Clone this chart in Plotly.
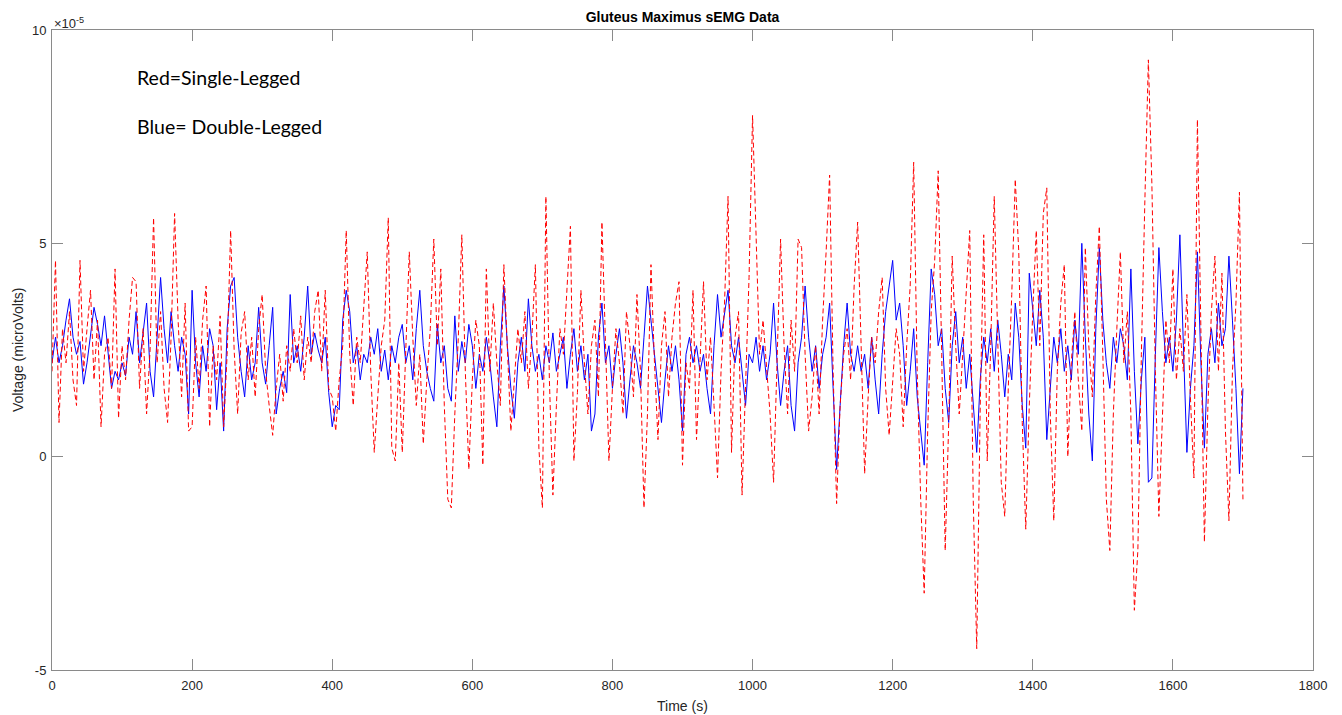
import plotly.graph_objects as go

# Time axis (s), sample every 5 s
time_s = list(range(0, 1701, 5))

# Values in units of 1e-5 (axis exponent shown as x10^-5)
single_legged = [
    2.0, 4.6, 0.8, 3.0, 2.2, 3.4, 1.8, 1.2, 4.6, 2.0,
    3.0, 3.9, 1.8, 3.2, 0.7, 2.4, 2.8, 1.6, 4.4, 0.9,
    2.6, 1.8, 3.2, 4.2, 4.1, 1.6, 3.0, 1.0, 2.5, 5.6,
    2.2, 3.4, 1.6, 0.8, 2.8, 5.7, 3.2, 1.4, 3.6, 0.6,
    0.7, 2.8, 1.6, 3.2, 4.0, 0.7, 2.6, 1.8, 3.3, 0.7,
    2.4, 5.3, 2.5, 1.0, 2.9, 3.4, 1.8, 2.8, 1.4, 3.0,
    3.8, 2.0, 1.2, 0.5, 1.6, 2.4, 1.3, 2.6, 2.0, 3.0,
    2.2, 3.3, 1.8, 2.8, 2.2, 3.4, 3.9, 2.0, 3.9, 1.6,
    1.4, 0.6, 1.8, 2.6, 5.3, 2.4, 1.2, 2.8, 2.2, 3.5,
    4.8, 2.0, 0.1, 1.4, 2.6, 3.2, 5.6, 0.2, -0.1, 2.2,
    0.1, 2.5, 4.8, 2.8, 1.2, 2.4, 0.3, 1.8, 3.0, 5.1,
    2.6, 4.4, 1.2, -1.0, -1.2, 1.0, 2.8, 5.2, 2.0, -0.3,
    1.8, 3.2, 2.6, -0.2, 4.4, 2.0, 3.6, 2.2, 1.2, 4.5,
    2.5, 0.6, 1.8, 3.0, 2.2, 3.4, 1.6, 2.8, 4.5, 0.2,
    -1.2, 6.1, 1.8, -0.9, 1.2, 3.0, 2.4, 4.0, 5.4, -0.1,
    1.5, 3.9, 2.2, 1.0, 2.6, 3.2, 1.4, 5.5, 2.4, -0.1,
    1.6, 3.0, 2.2, 1.0, 3.4, 2.6, 1.4, 3.8, 2.0, -1.2,
    1.0, 4.5, 2.2, 0.4, 2.6, 3.4, 1.4, 2.8, 3.6, 4.1,
    -0.2, 2.2, 1.6, 3.9, 0.4, 2.4, 4.1, 1.8, 2.8, 1.2,
    -0.5, 2.0, 3.6, 6.1, 0.1, 2.8, 3.4, -0.9, 1.6, 4.2,
    8.0, 5.2, 2.4, 3.2, 2.0, 1.0, -0.6, 2.2, 5.1, 2.6,
    1.0, 3.2, 2.0, 5.1, 4.9, 2.4, 0.6, 1.4, 2.6, 1.0,
    3.2, 4.8, 6.6, 2.0, -1.1, 1.2, 2.4, 3.0, 1.8, 4.0,
    5.5, 2.6, -0.4, 1.4, 2.8, 2.2, 3.4, 4.2, 1.6, 0.5,
    1.8, 3.0, 2.4, 0.7, 2.6, 4.0, 6.9, 2.0, -1.0, -3.2,
    0.6, 3.4, 4.6, 6.7, 2.4, -2.2, 0.8, 4.7, 2.6, 1.0,
    2.4, 3.8, 5.3, -1.0, -4.5, 1.2, 5.2, -0.1, 2.6, 6.1,
    3.0, -0.6, -1.4, 1.6, 3.8, 6.5, 4.8, 0.8, -1.7, 1.2,
    3.4, 5.3, 2.6, 5.7, 6.3, 1.0, -1.5, 2.0, 3.6, 4.5,
    0.0, 2.2, 3.4, 1.8, 0.6, 4.9, 2.6, 1.4, 3.8, 5.4,
    2.4, -1.0, -2.2, 1.0, 3.0, 4.8, 2.2, 3.4, 1.0, -3.6,
    -2.2, 2.4, 6.0, 9.3, 6.4, 2.0, -1.4, 0.8, 3.2, 2.2,
    4.4, 1.8, 3.0, 2.0, 3.8, 1.4, -0.5, 7.9, 2.4, -2.0,
    1.2, 3.4, 4.7, 2.0, 4.3, 0.6, -1.5, 2.0, 3.6, 6.2,
    -1.0,
]

double_legged = [
    2.2, 2.8, 2.2, 2.6, 3.2, 3.7, 2.8, 2.4, 2.7, 1.7,
    2.2, 2.8, 3.5, 3.1, 2.6, 3.3, 2.4, 1.6, 2.0, 1.8,
    2.2, 1.9, 2.8, 2.4, 3.4, 2.2, 2.9, 3.6, 2.0, 1.4,
    2.8, 4.2, 3.0, 2.2, 3.4, 2.6, 2.0, 2.8, 2.4, 1.0,
    3.9, 2.2, 1.4, 2.6, 2.0, 3.0, 2.6, 1.1, 2.2, 0.6,
    3.0, 4.0, 4.2, 2.8, 2.0, 1.4, 2.6, 1.8, 2.2, 3.5,
    2.2, 1.7, 2.6, 3.5, 1.0, 1.6, 2.0, 1.5, 3.8, 2.2,
    2.6, 2.0, 2.8, 4.0, 2.4, 2.9, 2.5, 2.2, 2.8, 1.5,
    0.7, 1.2, 1.1, 3.2, 3.9, 3.4, 2.2, 2.6, 1.8, 2.4,
    2.2, 2.8, 2.4, 3.0, 2.0, 2.5, 1.8, 2.6, 2.2, 2.8,
    3.1, 2.2, 2.6, 1.8, 3.0, 3.9, 2.6, 2.0, 1.6, 1.3,
    3.1, 2.2, 2.6, 1.6, 1.3, 3.3, 2.0, 2.7, 2.2, 3.1,
    2.6, 1.6, 2.4, 2.0, 2.8, 2.2, 1.4, 0.7, 2.6, 4.0,
    2.6, 1.6, 0.9, 2.2, 2.8, 2.0, 3.7, 2.6, 2.0, 2.4,
    1.8, 2.6, 2.2, 2.9, 2.0, 2.4, 2.8, 1.6, 2.4, 3.0,
    2.0, 2.6, 1.8, 2.4, 0.6, 1.0, 2.8, 3.6, 2.2, 2.6,
    1.6, 2.4, 3.0, 2.2, 0.9, 1.8, 2.6, 2.2, 1.6, 2.8,
    4.0, 3.2, 2.4, 1.6, 0.8, 1.8, 2.6, 2.0, 2.6, 1.8,
    0.6, 2.4, 2.8, 2.2, 2.6, 2.0, 2.4, 1.6, 1.0, 2.6,
    3.8, 2.8, 3.4, 3.9, 2.6, 2.2, 2.8, 2.0, 1.2, 2.4,
    2.2, 2.8, 2.0, 2.6, 1.8, 2.4, 3.6, 2.2, 1.2, 2.0,
    2.6, 1.2, 0.6, 2.2, 2.8, 4.0, 2.8, 2.0, 2.6, 1.6,
    2.4, 2.8, 3.6, 1.6, -0.3, 1.2, 2.6, 3.6, 2.4, 2.0,
    2.6, 2.0, 2.4, 1.6, 2.8, 1.8, 1.0, 2.4, 3.4, 4.0,
    4.6, 3.2, 3.6, 2.6, 1.2, 2.0, 3.0, 1.4, 0.6, -0.2,
    2.2, 4.4, 3.8, 2.6, 3.0, 1.6, 0.8, 2.6, 3.4, 2.2,
    2.8, 1.6, 2.4, 1.2, 0.1, 1.8, 2.8, 2.2, 3.0, 2.0,
    3.2, 2.4, 1.4, 2.4, 1.8, 3.6, 2.8, 1.2, 0.2, 4.3,
    3.4, 2.6, 3.9, 2.8, 0.4, 1.6, 2.8, 2.2, 3.0, 2.0,
    2.6, 1.8, 3.2, 2.4, 5.0, 2.8, 1.0, -0.1, 3.0, 4.9,
    3.2, 2.2, 1.6, 2.8, 2.2, 3.0, 2.6, 1.8, 4.4, 2.0,
    0.3, 1.8, 2.8, -0.6, -0.5, 2.4, 4.9, 3.4, 2.2, 2.8,
    2.0, 3.2, 5.2, 2.6, 0.1, 1.6, 2.6, 4.8, 2.2, 0.2,
    2.4, 3.0, 2.2, 3.6, 2.6, 3.0, 4.7, 3.2, 1.6, -0.4,
    1.6,
]

x_ticks = [0, 200, 400, 600, 800, 1000, 1200, 1400, 1600, 1800]
y_ticks = [-5, 0, 5, 10]
y_tick_labels = ["-5", "0", "5", "10"]

axis_color = "#8a8a8a"
label_color = "#262626"
font_family = "Liberation Sans, Arial, sans-serif"
note_font = "Lato, Carlito, sans-serif"

fig = go.Figure()
fig.add_trace(go.Scatter(
    x=time_s, y=double_legged, mode="lines",
    line=dict(color="#0000ff", width=1), name="Double-Legged",
))
fig.add_trace(go.Scatter(
    x=time_s, y=single_legged, mode="lines",
    line=dict(color="#ff0000", width=1, dash="5px,3px"), name="Single-Legged",
))

fig.update_layout(
    width=1342, height=715,
    margin=dict(l=52, r=29, t=30, b=45, autoexpand=False),
    paper_bgcolor="white", plot_bgcolor="white",
    showlegend=False,
    title=dict(text="<b>Gluteus Maximus sEMG Data</b>", x=(52 + 1313) / 2 / 1342,
               xanchor="center", xref="container", y=1 - 17 / 715, yref="container",
               yanchor="middle",
               font=dict(family=font_family, size=14, color="#000000")),
    font=dict(family=font_family, size=13, color=label_color),
)

fig.update_xaxes(
    range=[0, 1800], tickvals=x_ticks, ticks="inside", ticklen=11, tickcolor=axis_color,
    showline=True, linecolor=axis_color, linewidth=1, mirror="ticks",
    showgrid=False, zeroline=False, automargin=False, ticklabelstandoff=3,
    tickfont=dict(family=font_family, size=13, color=label_color),
)
fig.update_yaxes(
    range=[-5, 10], tickvals=y_ticks, ticktext=y_tick_labels, ticks="inside", ticklen=11,
    tickcolor=axis_color, showline=True, linecolor=axis_color, linewidth=1, mirror="ticks",
    showgrid=False, zeroline=False, automargin=False, ticklabelstandoff=2,
    tickfont=dict(family=font_family, size=13, color=label_color),
)

# axis titles
fig.add_annotation(text="Time (s)", xref="paper", yref="paper", x=0.5, y=0,
                   xanchor="center", yanchor="middle", yshift=-36, showarrow=False,
                   font=dict(family=font_family, size=14, color=label_color))
fig.add_annotation(text="Voltage (microVolts)", xref="paper", yref="paper", x=0, y=0.5,
                   xanchor="center", yanchor="middle", xshift=-34, textangle=-90, showarrow=False,
                   font=dict(family=font_family, size=14, color=label_color))
# exponent label
fig.add_annotation(text="×10<sup>-5</sup>", xref="paper", yref="paper", x=0.0, y=1.0,
                   xanchor="left", yanchor="bottom", showarrow=False, xshift=0, yshift=-3,
                   font=dict(family=font_family, size=13, color=label_color))
# notes
fig.add_annotation(text="Red=Single-Legged", xref="x", yref="y", x=118, y=8.88,
                   xanchor="left", yanchor="middle", showarrow=False,
                   font=dict(family=note_font, size=19.5, color="#000000"))
fig.add_annotation(text="Blue= Double-Legged", xref="x", yref="y", x=118, y=7.73,
                   xanchor="left", yanchor="middle", showarrow=False,
                   font=dict(family=note_font, size=19.5, color="#000000"))

fig.write_html("out.html", config={"displayModeBar": False},
               post_script="document.body.style.margin='0';")
